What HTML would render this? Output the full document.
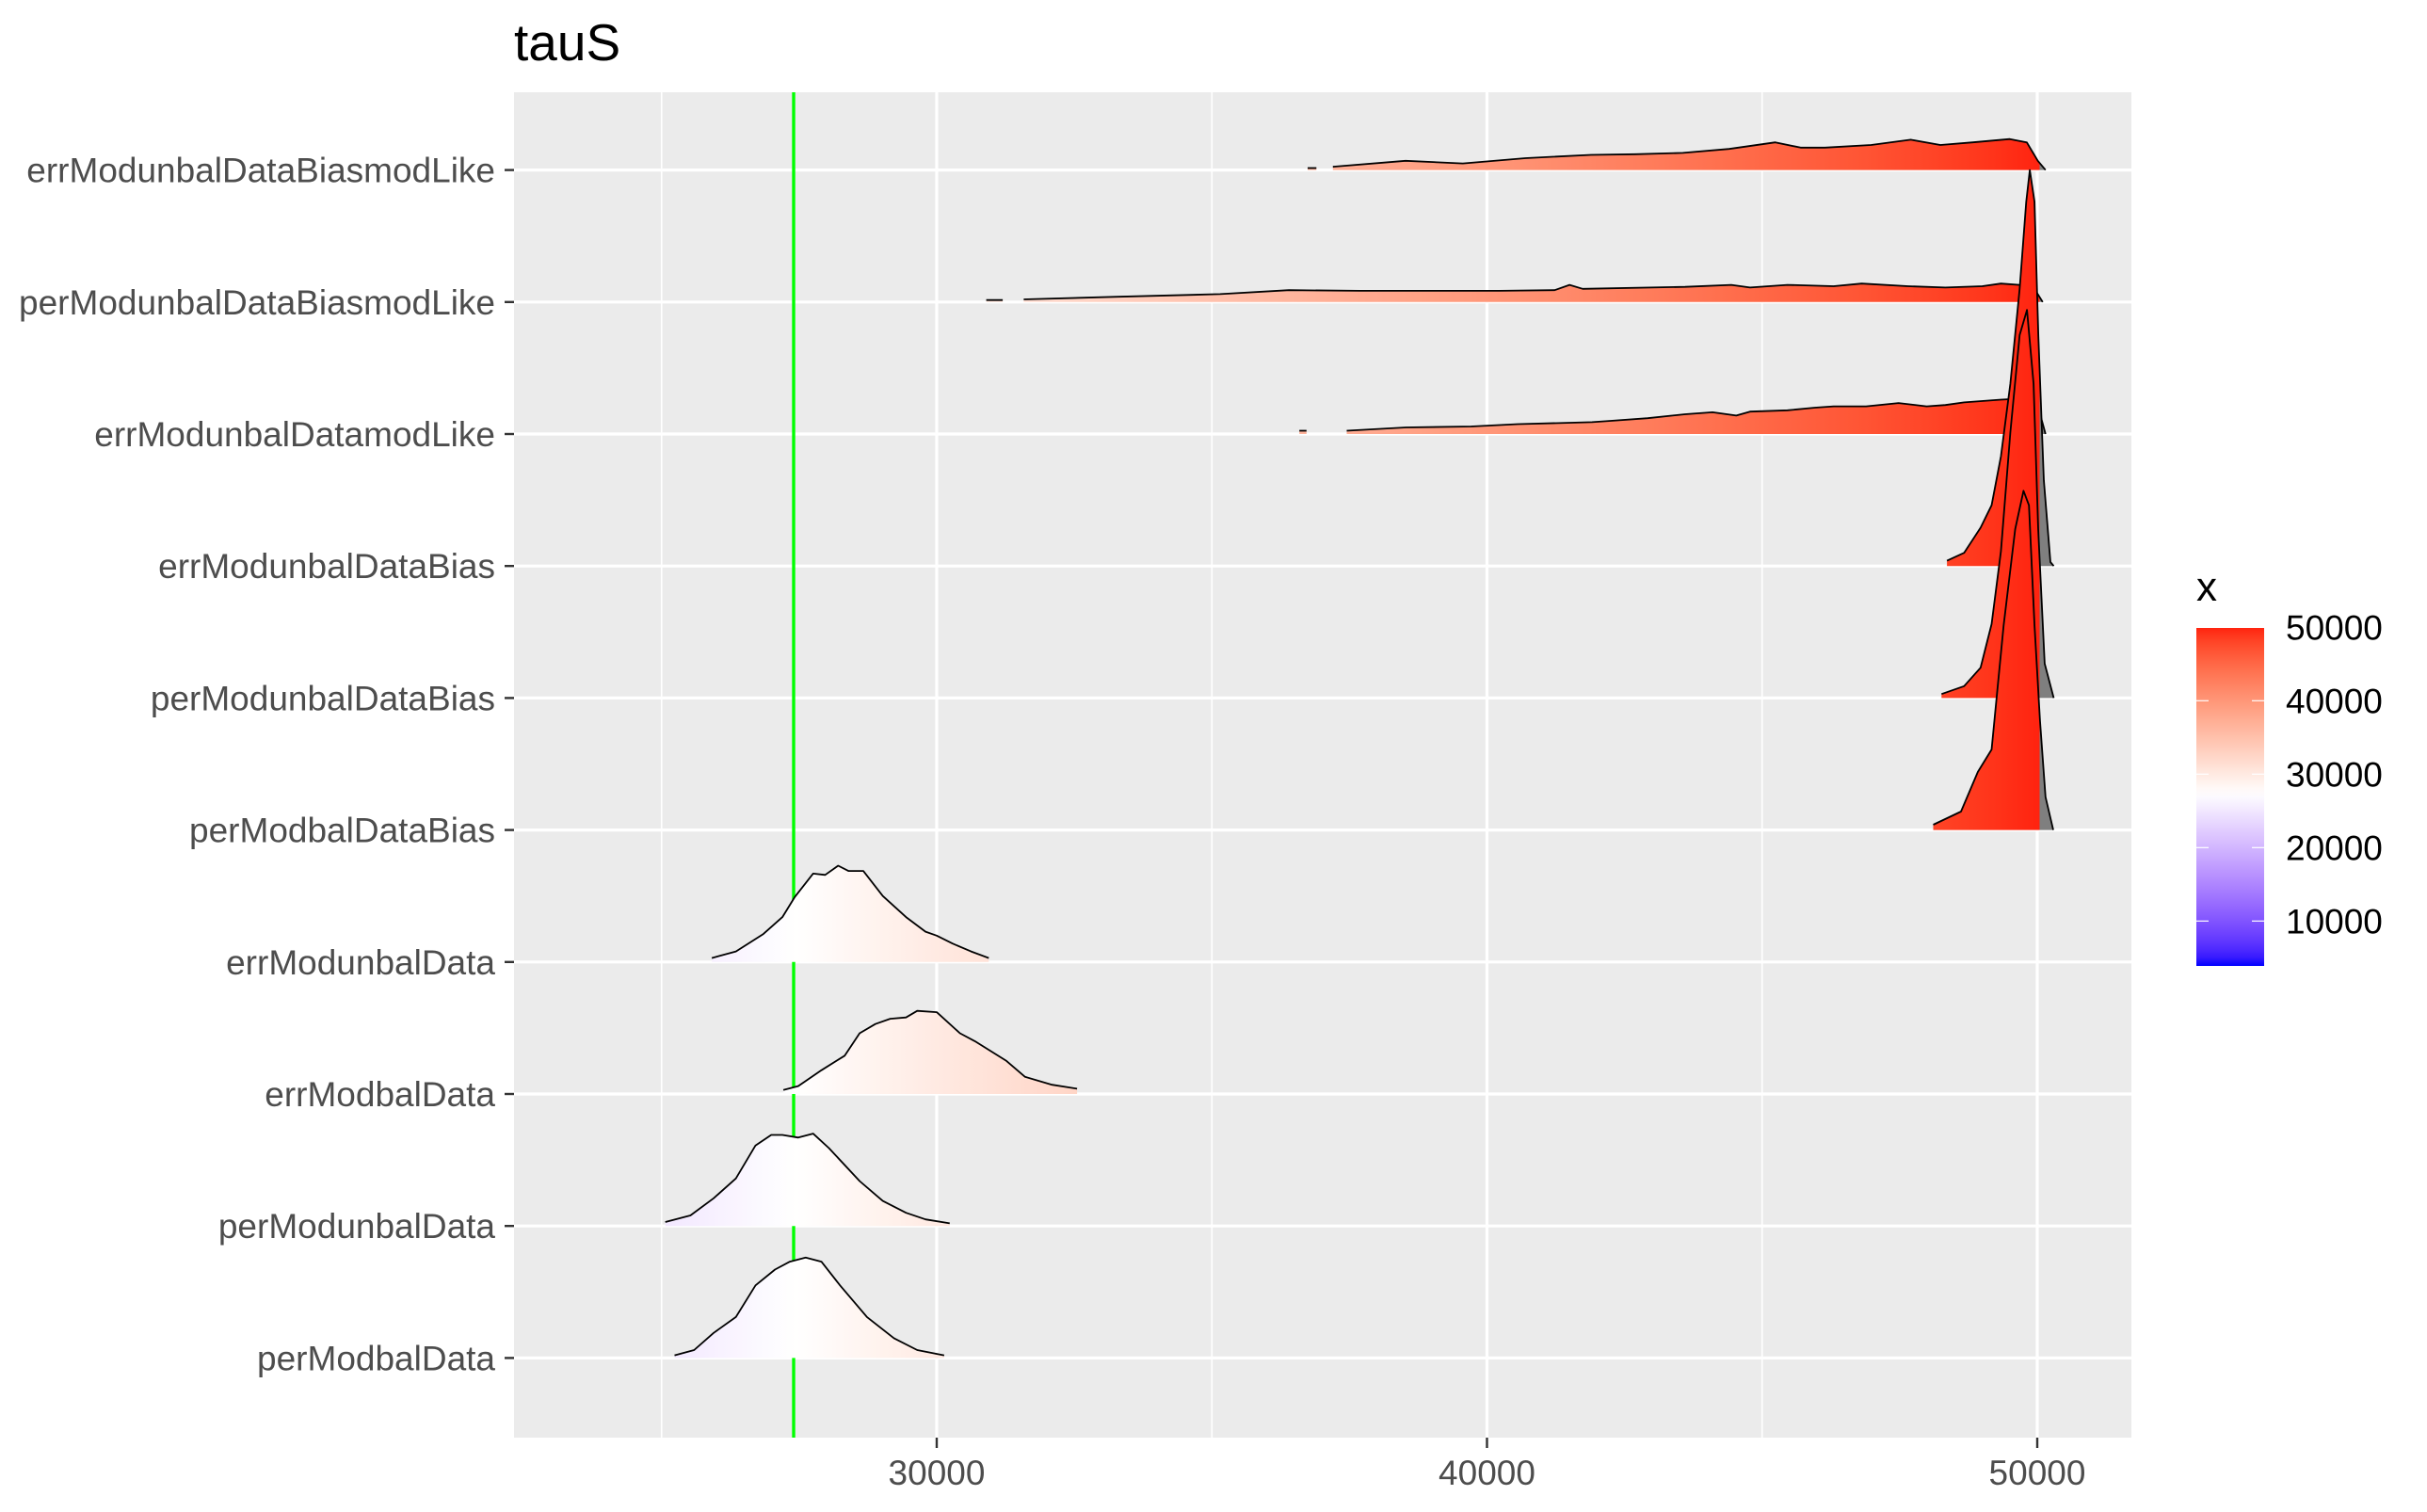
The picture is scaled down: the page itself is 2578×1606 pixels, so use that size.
<!DOCTYPE html>
<html><head><meta charset="utf-8"><title>tauS</title>
<style>html,body{margin:0;padding:0;background:#fff}svg{display:block}text{font-family:"Liberation Sans",Arial,sans-serif}</style>
</head><body>
<svg id="chart" xmlns="http://www.w3.org/2000/svg" width="2578" height="1606" viewBox="0 0 2578 1606">
<defs>
<linearGradient id="ridgeFill" gradientUnits="userSpaceOnUse" x1="546" y1="0" x2="2264" y2="0"></linearGradient>
<linearGradient id="barFill" gradientUnits="userSpaceOnUse" x1="0" y1="1026" x2="0" y2="667"></linearGradient>
</defs>
<text x="546" y="64" font-size="55" fill="#000">tauS</text>
<rect x="546" y="98" width="1718" height="1429" fill="#ebebeb"/>
<g id="grid"></g>
<g id="ridges"></g>
<g id="axes"></g>
<g id="legend"></g>
</svg>
<script>
const categories=["errModunbalDataBiasmodLike","perModunbalDataBiasmodLike","errModunbalDatamodLike","errModunbalDataBias","perModunbalDataBias","perModbalDataBias","errModunbalData","errModbalData","perModunbalData","perModbalData"];
const xTicks=[30000,40000,50000];
const xMinor=[25000,35000,45000];
const legendTicks=[10000,20000,30000,40000,50000];
const refLine=27400;
const fillLow=3885, fillMid=27400, fillHigh=50000;

// series: x values and density heights (in row units)
const r0tailX=[36740,36900];const r0tailH=[0.015,0.015];
const r0X=[37200,38520,39560,40700,41890,42700,43560,44400,45240,45700,46140,46980,47700,48240,48830,49500,49810,50010,50150];
const r0H=[0.025,0.07,0.05,0.09,0.115,0.12,0.13,0.16,0.21,0.17,0.17,0.19,0.23,0.19,0.21,0.235,0.21,0.07,0];
const r1tailX=[30900,31200];const r1tailH=[0.015,0.015];
const r1X=[31580,33300,35150,36400,37690,40220,41230,41500,41740,43600,44440,44780,45460,46300,46810,47650,48330,49000,49340,49680,49980,50100];
const r1H=[0.02,0.04,0.06,0.09,0.085,0.085,0.09,0.13,0.10,0.115,0.13,0.11,0.13,0.12,0.14,0.12,0.11,0.12,0.14,0.13,0.08,0];
const r2tailX=[36590,36720];const r2tailH=[0.025,0.025];
const r2X=[37450,38530,39710,40560,41910,42250,42920,43600,44100,44530,44780,45460,45960,46300,46890,47480,47990,48330,48670,49340,49760,50020,50150];
const r2H=[0.025,0.05,0.057,0.075,0.09,0.10,0.12,0.15,0.165,0.14,0.17,0.18,0.20,0.21,0.21,0.235,0.21,0.22,0.24,0.26,0.27,0.2,0];
const r3X=[48360,48670,48970,49170,49340,49510,49680,49800,49865,49950,50020,50120,50240,50300];
const r3H=[0.04,0.10,0.29,0.46,0.83,1.38,2.10,2.76,3.0,2.76,1.74,0.65,0.03,0];
const r4X=[48260,48670,48970,49170,49340,49510,49680,49814,49933,50017,50135,50300];
const r4H=[0.03,0.09,0.23,0.56,1.11,2.01,2.75,2.94,2.38,1.28,0.26,0];
const r5X=[48110,48615,48920,49170,49390,49600,49750,49850,49950,50050,50150,50290];
const r5H=[0.04,0.14,0.44,0.61,1.55,2.28,2.57,2.46,1.55,0.83,0.25,0];
const r6X=[25912,26351,26841,27196,27416,27753,27973,28209,28395,28666,29020,29443,29797,30000,30287,30625,30946];
const r6H=[0.03,0.08,0.21,0.34,0.49,0.67,0.66,0.73,0.69,0.69,0.50,0.34,0.23,0.20,0.14,0.08,0.03];
const r7X=[27213,27483,27905,28328,28598,28885,29155,29443,29645,30000,30422,30693,31267,31605,32095,32551];
const r7H=[0.03,0.06,0.18,0.29,0.46,0.53,0.57,0.58,0.63,0.62,0.46,0.40,0.25,0.13,0.07,0.04];
const r8X=[25068,25524,25946,26351,26706,26993,27196,27483,27753,28041,28598,29020,29443,29797,30236];
const r8H=[0.03,0.08,0.21,0.36,0.61,0.69,0.69,0.67,0.70,0.59,0.34,0.19,0.10,0.05,0.02];
const r9X=[25236,25591,25946,26351,26706,27061,27331,27618,27905,28243,28733,29223,29645,30135];
const r9H=[0.02,0.06,0.19,0.31,0.55,0.67,0.73,0.76,0.73,0.55,0.31,0.15,0.06,0.02];

const seriesRows=[[[r0tailX,r0tailH],[r0X,r0H]],[[r1tailX,r1tailH],[r1X,r1H]],[[r2tailX,r2tailH],[r2X,r2H]],[[r3X,r3H]],[[r4X,r4H]],[[r5X,r5H]],[[r6X,r6H]],[[r7X,r7H]],[[r8X,r8H]],[[r9X,r9H]]];

const NS="http://www.w3.org/2000/svg";
const PX0=546,PX1=2264,PY0=98,PY1=1527;
const ROW=140.2,ROW0=180.6;
function xs(v){return 995+(v-30000)*0.05845;}
function yRow(i){return ROW0+i*ROW;}
function mk(tag,attrs,parent){const e=document.createElementNS(NS,tag);for(const k in attrs)e.setAttribute(k,attrs[k]);parent.appendChild(e);return e;}

// Lab interpolation
function lin(c){c/=255;return c<=0.04045?c/12.92:Math.pow((c+0.055)/1.055,2.4);}
function unlin(c){c=c<=0.0031308?12.92*c:1.055*Math.pow(c,1/2.4)-0.055;return Math.max(0,Math.min(255,Math.round(c*255)));}
function toLab(rgb){const r=lin(rgb[0]),g=lin(rgb[1]),b=lin(rgb[2]);
let X=(0.4124*r+0.3576*g+0.1805*b)/0.95047,Y=0.2126*r+0.7152*g+0.0722*b,Z=(0.0193*r+0.1192*g+0.9505*b)/1.08883;
const f=t=>t>0.008856?Math.cbrt(t):7.787*t+16/116;const fx=f(X),fy=f(Y),fz=f(Z);return [116*fy-16,500*(fx-fy),200*(fy-fz)];}
function fromLab(l){const fy=(l[0]+16)/116,fx=fy+l[1]/500,fz=fy-l[2]/200;const fi=t=>t*t*t>0.008856?t*t*t:(t-16/116)/7.787;
const X=fi(fx)*0.95047,Y=fi(fy),Z=fi(fz)*1.08883;
const r=3.2406*X-1.5372*Y-0.4986*Z,g=-0.9689*X+1.8758*Y+0.0415*Z,b=0.0557*X-0.2040*Y+1.0570*Z;
return "rgb("+unlin(r)+","+unlin(g)+","+unlin(b)+")";}
const LB=toLab([0,0,255]),LW=toLab([255,255,255]),LR=toLab([255,0,0]);
const ext=Math.max(fillMid-fillLow,fillHigh-fillMid);
function colorOf(v){let t=(v-fillMid)/ext/2+0.5;t=Math.max(0,Math.min(1,t));let a,b,u;
if(t<0.5){a=LB;b=LW;u=t/0.5;}else{a=LW;b=LR;u=(t-0.5)/0.5;}
return fromLab([a[0]+(b[0]-a[0])*u,a[1]+(b[1]-a[1])*u,a[2]+(b[2]-a[2])*u]);}

// ridge gradient
const rg=document.getElementById('ridgeFill');
const grayStart=xs(fillHigh+40);
for(let px=PX0;px<=PX1;px+=20){
  const off=(px-PX0)/(PX1-PX0);
  if(px<grayStart){mk('stop',{offset:off,'stop-color':colorOf(30000+(px-995)/0.05845)},rg);}
}
const go=(grayStart-PX0)/(PX1-PX0);
mk('stop',{offset:go,'stop-color':colorOf(fillHigh+40)},rg);
mk('stop',{offset:go,'stop-color':'#7f7f7f'},rg);
mk('stop',{offset:1,'stop-color':'#7f7f7f'},rg);

// grid
const grid=document.getElementById('grid');
xMinor.forEach(v=>{const l=mk('line',{x1:xs(v),x2:xs(v),y1:PY0,y2:PY1,stroke:'#fff','stroke-width':1.6},grid);

});
xTicks.forEach(v=>{const l=mk('line',{x1:xs(v),x2:xs(v),y1:PY0,y2:PY1,stroke:'#fff','stroke-width':3.2},grid);

});
categories.forEach((c,i)=>{const l=mk('line',{x1:PX0,x2:PX1,y1:yRow(i),y2:yRow(i),stroke:'#fff','stroke-width':3.2},grid);

});

// reference line
const ridges=document.getElementById('ridges');
const gl=mk('line',{x1:xs(refLine),x2:xs(refLine),y1:PY0,y2:PY1,stroke:'#00ff00','stroke-width':3.4},ridges);



// ridges
seriesRows.forEach((segs,i)=>{
  const base=yRow(i);
  const g=mk('g',{},ridges);
  
  
  segs.forEach(([X,H])=>{
    const pts=X.map((v,k)=>xs(v).toFixed(1)+','+(base-H[k]*ROW).toFixed(1));
    const poly=mk('polygon',{points:xs(X[0]).toFixed(1)+','+base+' '+pts.join(' ')+' '+xs(X[X.length-1]).toFixed(1)+','+base,fill:'url(#ridgeFill)'},g);
    
    
    const pl=mk('polyline',{points:pts.join(' '),fill:'none',stroke:'#000','stroke-width':1.8,'stroke-linejoin':'round'},g);
    
    
  });
});

// axes
const axes=document.getElementById('axes');
categories.forEach((c,i)=>{
  const t=mk('line',{x1:536,x2:546,y1:yRow(i),y2:yRow(i),stroke:'#333','stroke-width':2.4},axes);
  
  
  const tx=mk('text',{x:526,y:yRow(i)+13,'text-anchor':'end','font-size':37,fill:'#4d4d4d'},axes);
  tx.textContent=c;
  
  
});
xTicks.forEach(v=>{
  const t=mk('line',{x1:xs(v),x2:xs(v),y1:PY1,y2:PY1+11,stroke:'#333','stroke-width':2.4},axes);
  
  
  const tx=mk('text',{x:xs(v),y:1577,'text-anchor':'middle','font-size':37,fill:'#4d4d4d'},axes);
  tx.textContent=String(v);
  
  
});

// legend
const lg=document.getElementById('legend');
const bf=document.getElementById('barFill');
const LB0=1026,LB1=667;
function ly(v){return 666.3+(50000-v)*0.0078;}
for(let k=0;k<=40;k++){const v=fillLow+(fillHigh-fillLow)*k/40;mk('stop',{offset:k/40,'stop-color':colorOf(v)},bf);}
const lt=mk('text',{x:2333,y:638,'font-size':44,fill:'#000'},lg);
lt.textContent='x';


const bar=mk('rect',{x:2333,y:LB1,width:72,height:LB0-LB1,fill:'url(#barFill)'},lg);


legendTicks.forEach(v=>{
  const y=ly(v);
  const a=mk('line',{x1:2333,x2:2346,y1:y,y2:y,stroke:'#fff','stroke-width':1.2},lg);
  
  
  const b=mk('line',{x1:2392,x2:2405,y1:y,y2:y,stroke:'#fff','stroke-width':1.2},lg);
  
  
  const tx=mk('text',{x:2428,y:y+13,'font-size':37,fill:'#000'},lg);
  tx.textContent=String(v);
  
  
});
</script>
</body></html>
